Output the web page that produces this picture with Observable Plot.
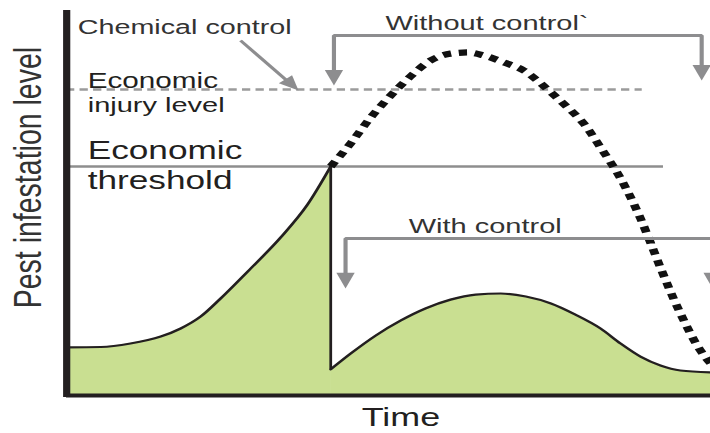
<!DOCTYPE html>
<html>
<head>
<meta charset="utf-8">
<script src="https://cdn.jsdelivr.net/npm/d3@7"></script>
<script src="https://cdn.jsdelivr.net/npm/@observablehq/plot@0.6"></script>
<style>
  html, body { margin: 0; padding: 0; background: #fff; }
  #chart { width: 710px; height: 433px; overflow: hidden; }
</style>
</head>
<body>
<div id="chart"></div>
<script>
// ---- Data (Time 0–100, pest infestation level 0–100, arbitrary units) ----
const timeBefore  = [0, 5.3, 9.9, 14.6, 17.7, 20.8, 23.9, 28.1, 33.2, 37.4, 41.0];
const levelBefore = [12.5, 12.6, 13.5, 15.3, 17.4, 20.5, 25.2, 32.2, 41.0, 49.6, 59.5];

const timeAfter  = [41.0, 44.1, 48.0, 51.9, 55.7, 59.6, 63.5, 67.4, 71.3, 75.2, 79.0, 82.9, 86.0, 89.1, 92.2, 95.3, 100];
const levelAfter = [6.8, 10.9, 15.6, 19.5, 22.6, 24.9, 26.2, 26.5, 25.7, 23.9, 21.0, 17.4, 13.5, 10.1, 7.8, 6.5, 6.0];

const timeNoControl  = [41.0, 44.1, 47.2, 50.3, 53.0, 56.5, 59.6, 62.3, 64.8, 67.9, 71.0, 73.1, 75.2, 77.8, 80.3, 82.9, 86.0, 89.1, 90.7, 92.2, 95.3, 98.4, 100];
const levelNoControl = [59.5, 65.5, 72.2, 77.9, 82.3, 87.0, 88.8, 89.1, 88.3, 86.5, 84.4, 81.8, 78.7, 74.8, 70.6, 64.4, 56.4, 46.0, 39.5, 33.2, 21.3, 11.7, 8.3];

const economicThreshold = 59.5;
const economicInjuryLevel = 79.5;
const thresholdEnd = 92.7;
const injuryEnd = 89.4;

// ---- Labels ----
const yLabel = "Pest infestation level";
const xLabel = "Time";
const labelChemical = "Chemical control";
const labelWithout = "Without control`";
const labelWith = "With control";
const labelEIL = ["Economic", "injury level"];
const labelET = ["Economic", "threshold"];

// ---- Annotation anchors (data units) ----
const withoutBracketX = [41.5, 98.6];
const withoutBracketY = 93.5;
const withoutTips = [80.5, 81.8];
const withBracketX = [43.3, 100.3];
const withBracketY = 40.8;
const withTips = [27.8, 27.8];
const chemFrom = [27.0, 92.2];
const chemTo = [36.0, 79.2];

// ---- Build tables ----
const before = timeBefore.map((t, i) => ({t, v: levelBefore[i]}));
const after = timeAfter.map((t, i) => ({t, v: levelAfter[i]}));
const noControl = timeNoControl.map((t, i) => ({t, v: levelNoControl[i]}));
const dropTime = timeBefore[timeBefore.length - 1];
const dropHigh = levelBefore[levelBefore.length - 1];
const dropLow = levelAfter[0];

// ---- Geometry ----
const W = 514, H = 433, S = 710 / W;
const mL = 66 / S, mR = 0, mT = 10, mB = 38;
const kx = (W - mL - mR) / 100, ky = (H - mT - mB) / 100;
const headLen = 15.6 / ky; // head height in data units (vertical)

function headSymbol(ux, uy) {
  return {
    draw(ctx, size) {
      const s = Math.sqrt(size), h = s * 1.6, w = s * 0.68;
      const bx = -ux * h, by = -uy * h, px = -uy, py = ux;
      ctx.moveTo(0, 0);
      ctx.lineTo(bx + px * w, by + py * w);
      ctx.lineTo(bx - px * w, by - py * w);
      ctx.closePath();
    }
  };
}
const headDown = headSymbol(0, 1);
const cdx = (chemTo[0] - chemFrom[0]) * kx, cdy = (chemFrom[1] - chemTo[1]) * ky;
const cl = Math.hypot(cdx, cdy);
const headChem = headSymbol(cdx / cl, cdy / cl);

const gray = "#8d8d8f";
const ink = "#231f20";
const green = "#c9df91";
const font = "'Liberation Sans', Arial, Helvetica, sans-serif";

function bracket(xs, y, tips) {
  return [
    {x: xs[0], y: tips[0] + headLen * 0.8},
    {x: xs[0], y},
    {x: xs[1], y},
    {x: xs[1], y: tips[1] + headLen * 0.8}
  ];
}

const txt = (label, x, y, size, fill, extra = {}) =>
  Plot.text([label], {x, y, text: d => d, textAnchor: "start", lineAnchor: "top", fontSize: size, fill, fontFamily: font, ...extra});

const chart = Plot.plot({
  width: W,
  height: H,
  marginLeft: mL,
  marginRight: mR,
  marginTop: mT,
  marginBottom: mB,
  x: {domain: [0, 100], axis: null},
  y: {domain: [0, 100], axis: null},
  style: {fontFamily: font, background: "#fff"},
  marks: [
    Plot.area(before, {x1: "t", y1: 0, y2: "v", fill: green, curve: "monotone-x"}),
    Plot.area(after, {x1: "t", y1: 0, y2: "v", fill: green, curve: "monotone-x"}),
    Plot.ruleY([economicThreshold], {x1: 0, x2: thresholdEnd, stroke: "#8e8e8e", strokeWidth: 2.6}),
    Plot.ruleY([economicInjuryLevel], {x1: 0, x2: injuryEnd, stroke: "#9b9b9b", strokeWidth: 2.4, strokeDasharray: "6,3.8"}),
    Plot.line(before, {x: "t", y: "v", stroke: ink, strokeWidth: 2.2, curve: "monotone-x"}),
    Plot.line(after, {x: "t", y: "v", stroke: ink, strokeWidth: 2.2, curve: "monotone-x"}),
    Plot.ruleX([dropTime], {y1: dropLow, y2: dropHigh, stroke: ink, strokeWidth: 2}),
    Plot.line(noControl, {x: "t", y: "v", stroke: "#111", strokeWidth: 6.3, strokeDasharray: "6,5.6", strokeLinecap: "butt", strokeLinejoin: "miter", curve: "monotone-x"}),

    // brackets
    Plot.line(bracket(withoutBracketX, withoutBracketY, withoutTips), {x: "x", y: "y", stroke: gray, strokeWidth: 3, strokeLinejoin: "miter", strokeLinecap: "butt"}),
    Plot.dot(withoutBracketX.map((x, i) => ({x, y: withoutTips[i]})), {x: "x", y: "y", r: 5.5, symbol: headDown, fill: gray, stroke: "none"}),
    Plot.line(bracket(withBracketX, withBracketY, withTips), {x: "x", y: "y", stroke: gray, strokeWidth: 3, strokeLinejoin: "miter", strokeLinecap: "butt"}),
    Plot.dot(withBracketX.map((x, i) => ({x, y: withTips[i]})), {x: "x", y: "y", r: 5.5, symbol: headDown, fill: gray, stroke: "none"}),

    // chemical control arrow
    Plot.link([{x1: chemFrom[0], y1: chemFrom[1], x2: chemTo[0] - (chemTo[0] - chemFrom[0]) * 0.2, y2: chemTo[1] - (chemTo[1] - chemFrom[1]) * 0.2}],
      {x1: "x1", y1: "y1", x2: "x2", y2: "y2", stroke: gray, strokeWidth: 2.6}),
    Plot.dot([{x: chemTo[0], y: chemTo[1]}], {x: "x", y: "y", r: 5.2, symbol: headChem, fill: gray, stroke: "none"}),

    // texts
    txt(labelChemical, 1.71, 97.7, 20.8, "#333"),
    txt(labelWithout, 49.5, 98.7, 21, "#333"),
    txt(labelWith, 53.1, 46.2, 21, "#333"),
    txt(labelEIL[0], 3.26, 83.9, 21.5, ink),
    txt(labelEIL[1], 3.26, 77.4, 21, ink),
    txt(labelET[0], 3.26, 66.2, 25.5, ink),
    txt(labelET[1], 3.26, 58.4, 25.5, ink),
    txt(xLabel, 51.9, -3.1, 26, ink, {textAnchor: "middle"}),
    txt(yLabel, -5.96, 56.6, 28.5, "#333", {rotate: -90, textAnchor: "middle", lineAnchor: "middle"}),

    // axis bars
    Plot.ruleY([0], {x1: 0, x2: 100, stroke: ink, strokeWidth: 4.2}),
    Plot.ruleX([0], {y1: -0.55, y2: 100, stroke: ink, strokeWidth: 5.2})
  ]
});

const svg = chart.tagName.toLowerCase() === "svg" ? chart : chart.querySelector("svg");
svg.setAttribute("width", 710);
svg.setAttribute("height", 433);
svg.setAttribute("viewBox", `0 0 ${W} ${H}`);
svg.setAttribute("preserveAspectRatio", "none");
svg.style.cssText = `display:block;background:#fff;width:710px;height:433px;max-width:none;overflow:hidden;font-family:${font};`;
document.getElementById("chart").appendChild(chart);
</script>
</body>
</html>
